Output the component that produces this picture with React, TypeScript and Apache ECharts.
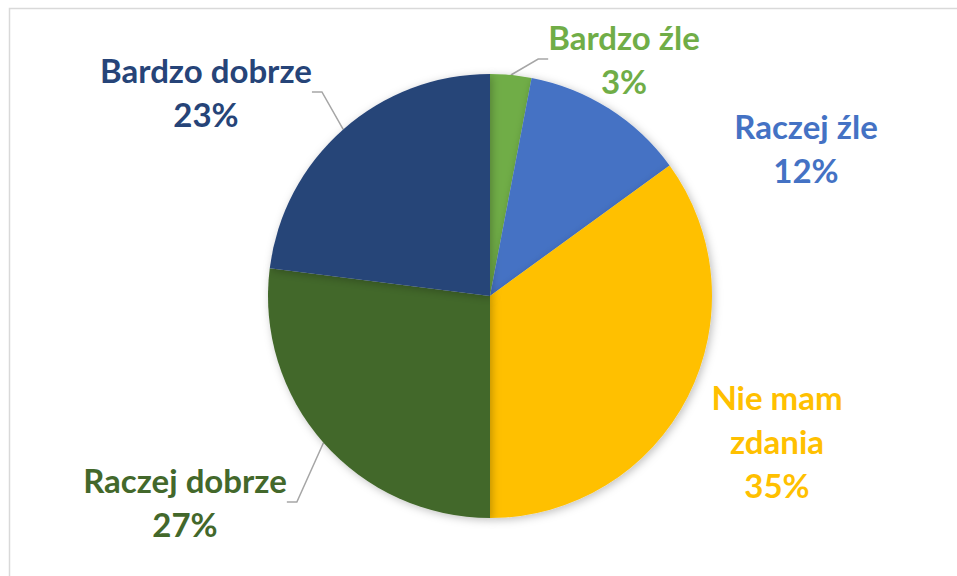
import React, { useEffect, useRef } from "react";
import * as echarts from "echarts";

const categories = ["Bardzo źle", "Raczej źle", "Nie mam zdania", "Raczej dobrze", "Bardzo dobrze"];
const labelTexts = ["Bardzo źle", "Raczej źle", "Nie mam\nzdania", "Raczej dobrze", "Bardzo dobrze"];
const values = [3, 12, 35, 27, 23];
const colors = ["#70AD47", "#4472C4", "#FFC000", "#43682B", "#264478"];
const labelCenters: [number, number][] = [
  [624, 59],
  [806, 148],
  [777, 441],
  [185, 502],
  [206, 92],
];
const showLines = [true, false, false, true, true];

export default function App() {
  const ref = useRef<HTMLDivElement>(null);
  useEffect(() => {
    if (!ref.current) return;
    const chart = echarts.init(ref.current, undefined, { renderer: "svg" });
    chart.setOption({
      animation: false,
      backgroundColor: "#ffffff",
      graphic: [
        {
          type: "rect",
          shape: { x: 9.5, y: 8.5, width: 1200, height: 1200 },
          style: { fill: "none", stroke: "#D9D9D9", lineWidth: 1.5 },
          silent: true,
        },
      ],
      series: [
        {
          type: "pie",
          center: [490, 296],
          radius: [0, 222],
          startAngle: 90,
          clockwise: true,
          avoidLabelOverlap: false,
          itemStyle: {
            shadowBlur: 8,
            shadowColor: "rgba(0,0,0,0.25)",
            shadowOffsetX: 2,
            shadowOffsetY: 2,
          },
          label: {
            show: true,
            position: "outside",
            fontFamily: "Lato, 'Open Sans', sans-serif",
            fontWeight: "bold",
            fontSize: 33,
            lineHeight: 44,
            align: "center",
          },
          labelLine: {
            show: true,
            length: 10,
            length2: 10,
            lineStyle: { color: "#A6A6A6", width: 1.5 },
          },
          labelLayout: (p: any) => {
            const c = labelCenters[p.dataIndex];
            return { x: c[0], y: c[1], align: "center", verticalAlign: "middle" };
          },
          data: categories.map((name, i) => ({
            name,
            value: values[i],
            itemStyle: { color: colors[i] },
            label: {
              color: colors[i],
              formatter: labelTexts[i] + "\n" + values[i] + "%",
            },
            labelLine: { show: showLines[i] },
          })),
        },
      ],
    });
    return () => chart.dispose();
  }, []);
  return (
    <div
      ref={ref}
      style={{ position: "fixed", left: 0, top: 0, width: 957, height: 576 }}
    />
  );
}
